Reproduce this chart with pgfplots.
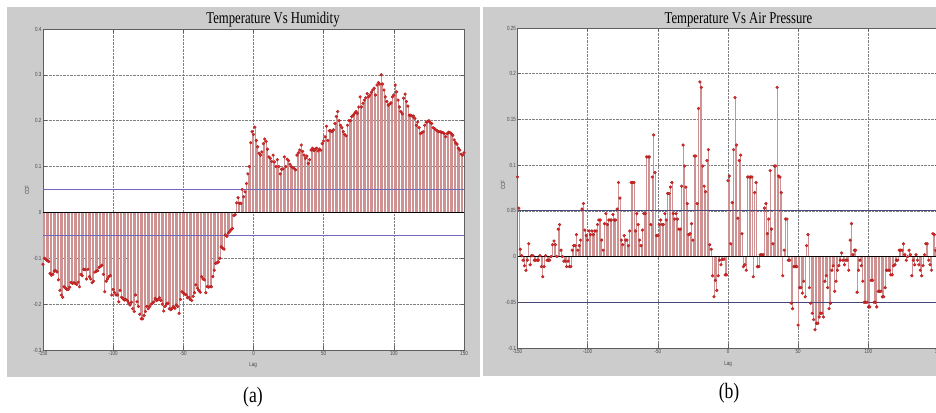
\documentclass[border=0pt]{standalone}
\usepackage{fontspec}
\setmainfont{Liberation Serif}
\newfontfamily\ticksf{Liberation Sans}
\usepackage{graphicx}
\usepackage{pgfplots}
\pgfplotsset{compat=1.18}
\usepackage{pgfplotstable}

\definecolor{panelgray}{RGB}{204,204,204}
\definecolor{stem}{RGB}{206,146,146}
\definecolor{dotred}{RGB}{226,40,40}
\definecolor{dotedge}{RGB}{165,28,28}
\definecolor{limitA}{RGB}{112,104,190}
\definecolor{limitB}{RGB}{70,70,120}
\definecolor{baseline}{RGB}{60,60,60}
\definecolor{frame}{RGB}{95,95,95}
\definecolor{labelgray}{RGB}{70,70,70}

% small condensed sans labels and condensed serif titles
\newcommand\tl[1]{\scalebox{0.75}[1]{\ticksf\fontsize{6}{7}\selectfont #1}}
\newcommand\ttl[1]{\scalebox{0.77}[1]{\fontsize{16.5}{18}\selectfont #1}}
\newcommand\panelcap[1]{\scalebox{0.8}[1]{\fontsize{22}{24}\selectfont #1}}

% cross-correlation, temperature vs humidity, lags -150..150
\pgfplotstableread[row sep=\\]{ccf\\
-0.113\\ -0.100\\ -0.102\\ -0.105\\ -0.107\\ -0.133\\ -0.137\\ -0.135\\ -0.128\\ -0.127\\
-0.130\\ -0.147\\ -0.170\\ -0.180\\ -0.185\\ -0.162\\ -0.165\\ -0.168\\ -0.168\\ -0.163\\
-0.153\\ -0.155\\ -0.153\\ -0.155\\ -0.157\\ -0.152\\ -0.162\\ -0.135\\ -0.138\\ -0.124\\
-0.125\\ -0.145\\ -0.124\\ -0.140\\ -0.145\\ -0.153\\ -0.150\\ -0.130\\ -0.128\\ -0.127\\
-0.120\\ -0.118\\ -0.115\\ -0.135\\ -0.173\\ -0.150\\ -0.145\\ -0.140\\ -0.138\\ -0.180\\
-0.168\\ -0.175\\ -0.180\\ -0.180\\ -0.195\\ -0.170\\ -0.185\\ -0.188\\ -0.191\\ -0.190\\
-0.192\\ -0.197\\ -0.202\\ -0.196\\ -0.210\\ -0.216\\ -0.180\\ -0.195\\ -0.205\\ -0.222\\
-0.232\\ -0.232\\ -0.225\\ -0.216\\ -0.205\\ -0.210\\ -0.205\\ -0.200\\ -0.198\\ -0.195\\
-0.188\\ -0.192\\ -0.190\\ -0.186\\ -0.192\\ -0.200\\ -0.215\\ -0.205\\ -0.200\\ -0.198\\
-0.210\\ -0.212\\ -0.209\\ -0.205\\ -0.209\\ -0.202\\ -0.205\\ -0.220\\ -0.190\\ -0.173\\
-0.176\\ -0.178\\ -0.180\\ -0.186\\ -0.185\\ -0.190\\ -0.192\\ -0.183\\ -0.175\\ -0.158\\
-0.165\\ -0.170\\ -0.174\\ -0.140\\ -0.145\\ -0.147\\ -0.175\\ -0.162\\ -0.163\\ -0.162\\
-0.162\\ -0.140\\ -0.126\\ -0.111\\ -0.110\\ -0.108\\ -0.100\\ -0.075\\ -0.078\\ -0.080\\
-0.049\\ -0.052\\ -0.045\\ -0.042\\ -0.038\\ -0.035\\ -0.007\\ -0.005\\ 0.021\\ 0.032\\
0.020\\ 0.020\\ 0.050\\ 0.034\\ 0.045\\ 0.063\\ 0.084\\ 0.100\\ 0.152\\ 0.176\\
0.170\\ 0.186\\ 0.157\\ 0.143\\ 0.129\\ 0.125\\ 0.132\\ 0.150\\ 0.160\\ 0.155\\
0.138\\ 0.121\\ 0.118\\ 0.111\\ 0.125\\ 0.110\\ 0.100\\ 0.115\\ 0.100\\ 0.084\\
0.094\\ 0.095\\ 0.121\\ 0.100\\ 0.116\\ 0.113\\ 0.105\\ 0.100\\ 0.098\\ 0.096\\
0.093\\ 0.125\\ 0.130\\ 0.136\\ 0.147\\ 0.133\\ 0.125\\ 0.118\\ 0.123\\ 0.107\\
0.115\\ 0.136\\ 0.140\\ 0.135\\ 0.138\\ 0.140\\ 0.134\\ 0.138\\ 0.136\\ 0.150\\
0.156\\ 0.165\\ 0.188\\ 0.157\\ 0.178\\ 0.178\\ 0.176\\ 0.180\\ 0.194\\ 0.209\\
0.220\\ 0.200\\ 0.190\\ 0.185\\ 0.176\\ 0.170\\ 0.167\\ 0.190\\ 0.200\\ 0.200\\
0.209\\ 0.212\\ 0.216\\ 0.220\\ 0.216\\ 0.230\\ 0.252\\ 0.230\\ 0.238\\ 0.245\\
0.250\\ 0.259\\ 0.252\\ 0.256\\ 0.262\\ 0.267\\ 0.271\\ 0.256\\ 0.278\\ 0.283\\
0.280\\ 0.300\\ 0.280\\ 0.267\\ 0.252\\ 0.242\\ 0.234\\ 0.236\\ 0.239\\ 0.252\\
0.256\\ 0.278\\ 0.263\\ 0.245\\ 0.230\\ 0.220\\ 0.215\\ 0.249\\ 0.258\\ 0.242\\
0.232\\ 0.212\\ 0.212\\ 0.210\\ 0.210\\ 0.205\\ 0.190\\ 0.197\\ 0.185\\ 0.172\\
0.174\\ 0.176\\ 0.190\\ 0.197\\ 0.198\\ 0.200\\ 0.196\\ 0.194\\ 0.185\\ 0.183\\
0.180\\ 0.178\\ 0.176\\ 0.176\\ 0.175\\ 0.174\\ 0.172\\ 0.165\\ 0.172\\ 0.175\\
0.174\\ 0.172\\ 0.168\\ 0.158\\ 0.152\\ 0.149\\ 0.140\\ 0.136\\ 0.127\\ 0.125\\
0.130\\
}\humidity

% cross-correlation, temperature vs air pressure, lags -150..150
\pgfplotstableread[row sep=\\]{ccf\\
0.087\\ 0.053\\ 0.008\\ 0.001\\ -0.004\\ -0.010\\ -0.015\\ -0.004\\ 0.014\\ -0.009\\
0.001\\ 0.001\\ -0.004\\ -0.004\\ -0.004\\ -0.004\\ 0.001\\ -0.011\\ -0.022\\ -0.011\\
0.001\\ -0.004\\ -0.004\\ -0.004\\ 0.000\\ 0.013\\ 0.017\\ 0.013\\ 0.000\\ 0.030\\
0.035\\ 0.007\\ 0.000\\ -0.005\\ -0.005\\ -0.011\\ -0.005\\ -0.011\\ -0.011\\ 0.007\\
0.012\\ 0.012\\ 0.024\\ 0.007\\ 0.012\\ 0.018\\ 0.052\\ 0.058\\ 0.029\\ 0.023\\
0.018\\ 0.028\\ 0.024\\ 0.028\\ 0.024\\ 0.028\\ 0.028\\ 0.035\\ 0.040\\ 0.040\\
0.018\\ 0.007\\ 0.036\\ 0.047\\ 0.035\\ 0.040\\ 0.040\\ 0.040\\ 0.046\\ 0.040\\
0.040\\ 0.052\\ 0.081\\ 0.064\\ 0.018\\ 0.013\\ 0.023\\ 0.018\\ 0.018\\ 0.012\\
0.028\\ 0.081\\ 0.081\\ 0.081\\ 0.028\\ 0.047\\ 0.035\\ 0.018\\ 0.012\\ 0.029\\
0.047\\ 0.047\\ 0.109\\ 0.109\\ 0.109\\ 0.035\\ 0.087\\ 0.133\\ 0.092\\ 0.023\\
0.023\\ 0.035\\ 0.040\\ 0.035\\ 0.035\\ 0.047\\ 0.040\\ 0.069\\ 0.069\\ 0.076\\
0.081\\ 0.047\\ 0.041\\ 0.047\\ 0.041\\ 0.030\\ 0.030\\ 0.077\\ 0.122\\ 0.099\\
0.076\\ 0.058\\ 0.024\\ 0.025\\ 0.036\\ 0.018\\ 0.110\\ 0.110\\ 0.058\\ 0.162\\
0.191\\ 0.185\\ 0.099\\ 0.077\\ 0.071\\ 0.105\\ 0.117\\ 0.013\\ 0.008\\ -0.021\\
-0.044\\ -0.026\\ -0.037\\ -0.021\\ -0.004\\ -0.009\\ -0.003\\ -0.003\\ -0.020\\ -0.020\\
0.083\\ 0.088\\ 0.014\\ 0.059\\ 0.117\\ 0.174\\ 0.122\\ 0.042\\ 0.105\\ 0.111\\
0.025\\ -0.011\\ -0.009\\ -0.015\\ 0.087\\ 0.087\\ 0.087\\ 0.087\\ -0.022\\ 0.070\\
0.081\\ -0.011\\ -0.011\\ 0.002\\ 0.002\\ 0.002\\ 0.053\\ 0.058\\ 0.025\\ 0.041\\
0.094\\ 0.030\\ 0.014\\ 0.099\\ 0.099\\ 0.185\\ 0.088\\ 0.087\\ 0.070\\ -0.021\\
0.007\\ 0.041\\ 0.041\\ -0.004\\ -0.004\\ -0.051\\ -0.057\\ -0.011\\ -0.011\\ -0.011\\
-0.075\\ -0.034\\ -0.034\\ -0.040\\ -0.027\\ -0.044\\ 0.012\\ 0.024\\ -0.034\\ -0.051\\
-0.062\\ -0.069\\ -0.080\\ -0.073\\ -0.073\\ -0.066\\ -0.062\\ -0.062\\ -0.066\\ -0.027\\
-0.021\\ -0.034\\ -0.057\\ -0.051\\ -0.015\\ -0.010\\ -0.038\\ -0.027\\ -0.015\\ -0.010\\
-0.004\\ 0.004\\ -0.004\\ -0.009\\ -0.004\\ -0.004\\ -0.015\\ 0.018\\ 0.036\\ 0.002\\
0.007\\ 0.007\\ -0.039\\ -0.015\\ -0.004\\ -0.010\\ -0.027\\ -0.050\\ -0.050\\ -0.050\\
-0.055\\ -0.055\\ -0.026\\ -0.026\\ -0.050\\ -0.050\\ -0.055\\ -0.038\\ -0.038\\ -0.038\\
-0.044\\ -0.044\\ -0.034\\ -0.015\\ -0.015\\ -0.015\\ -0.020\\ -0.020\\ -0.010\\ -0.009\\
-0.004\\ -0.004\\ 0.007\\ 0.007\\ 0.007\\ 0.014\\ 0.002\\ -0.004\\ 0.000\\ 0.007\\
0.002\\ -0.021\\ -0.004\\ -0.009\\ 0.002\\ -0.004\\ -0.009\\ -0.015\\ -0.021\\ -0.010\\
0.002\\ 0.014\\ 0.014\\ -0.004\\ -0.009\\ -0.015\\ 0.025\\ 0.024\\ 0.007\\ 0.010\\
0.015\\
}\pressure

\pgfplotsset{
  ccfpanel/.style={
    scale only axis, anchor=south west,
    xmin=-150, xmax=150,
    xtick={-150,-100,-50,0,50,100,150},
    xticklabels={\tl{-150},\tl{-100},\tl{-50},\tl{0},\tl{50},\tl{100},\tl{150}},
    grid=major,
    major grid style={densely dotted, black!50, line width=0.45pt},
    axis line style={frame, line width=0.6pt},
    tick align=inside, major tick length=3.5pt,
    tick style={frame, line width=0.5pt},
    xticklabel style={inner sep=1pt, text=labelgray},
    yticklabel style={inner sep=1.5pt, text=labelgray},
    axis background/.style={fill=white},
  },
  stems/.style={ycomb, color=stem, line width=0.6pt, mark=none},
  dots/.style={only marks, mark=*, mark size=1.45pt,
    mark options={fill=dotred, draw=dotedge, line width=0.3pt}},
}

\begin{document}
\begin{tikzpicture}[x=1pt, y=1pt]
\useasboundingbox (0,0) rectangle (936,412);
\clip (0,0) rectangle (936,412);
\fill[white] (0,0) rectangle (936,412);
% figure window backgrounds
\fill[panelgray] (7,35) rectangle (480,405);
\fill[panelgray] (483,36) rectangle (940,405);

% (a) temperature vs humidity
\begin{axis}[ccfpanel, at={(43pt,62pt)}, width=421pt, height=321pt,
  ymin=-0.3, ymax=0.4,
  ytick={-0.3,-0.2,-0.1,0,0.1,0.2,0.3,0.4},
  yticklabels={\tl{-0.3},\tl{-0.2},\tl{-0.1},\tl{0},\tl{0.1},\tl{0.2},\tl{0.3},\tl{0.4}}]
  \addplot[stems] table[x expr=\coordindex-150, y=ccf] {\humidity};
  \addplot[baseline, line width=0.8pt] coordinates {(-150,0) (150,0)};
  \addplot[limitA, line width=0.9pt] coordinates {(-150,0.051) (150,0.051)};
  \addplot[limitA, line width=0.9pt] coordinates {(-150,-0.051) (150,-0.051)};
  \addplot[dots] table[x expr=\coordindex-150, y=ccf] {\humidity};
\end{axis}

% (b) temperature vs air pressure
\begin{axis}[ccfpanel, at={(517.5pt,64pt)}, width=421pt, height=320pt,
  ymin=-0.1, ymax=0.25,
  ytick={-0.1,-0.05,0,0.05,0.1,0.15,0.2,0.25},
  yticklabels={\tl{-0.1},\tl{-0.05},\tl{0},\tl{0.05},\tl{0.1},\tl{0.15},\tl{0.2},\tl{0.25}}]
  \addplot[stems] table[x expr=\coordindex-150, y=ccf] {\pressure};
  \addplot[baseline, line width=0.8pt] coordinates {(-150,0) (150,0)};
  \addplot[limitB, line width=0.8pt] coordinates {(-150,0.051) (150,0.051)};
  \addplot[limitB, line width=0.8pt] coordinates {(-150,-0.05) (150,-0.05)};
  \addplot[dots] table[x expr=\coordindex-150, y=ccf] {\pressure};
\end{axis}

% titles, axis labels and panel captions
\node at (273,392) {\ttl{Temperature Vs Humidity}};
\node at (738.5,392) {\ttl{Temperature Vs Air Pressure}};
\node[text=labelgray] at (253,47) {\tl{Lag}};
\node[text=labelgray] at (728,48) {\tl{Lag}};
\node[text=labelgray, rotate=90] at (27,222) {\tl{CCF}};
\node[text=labelgray, rotate=90] at (503,227) {\tl{CCF}};
\node at (253,15) {\panelcap{(a)}};
\node at (729,19) {\panelcap{(b)}};
\end{tikzpicture}
\end{document}
